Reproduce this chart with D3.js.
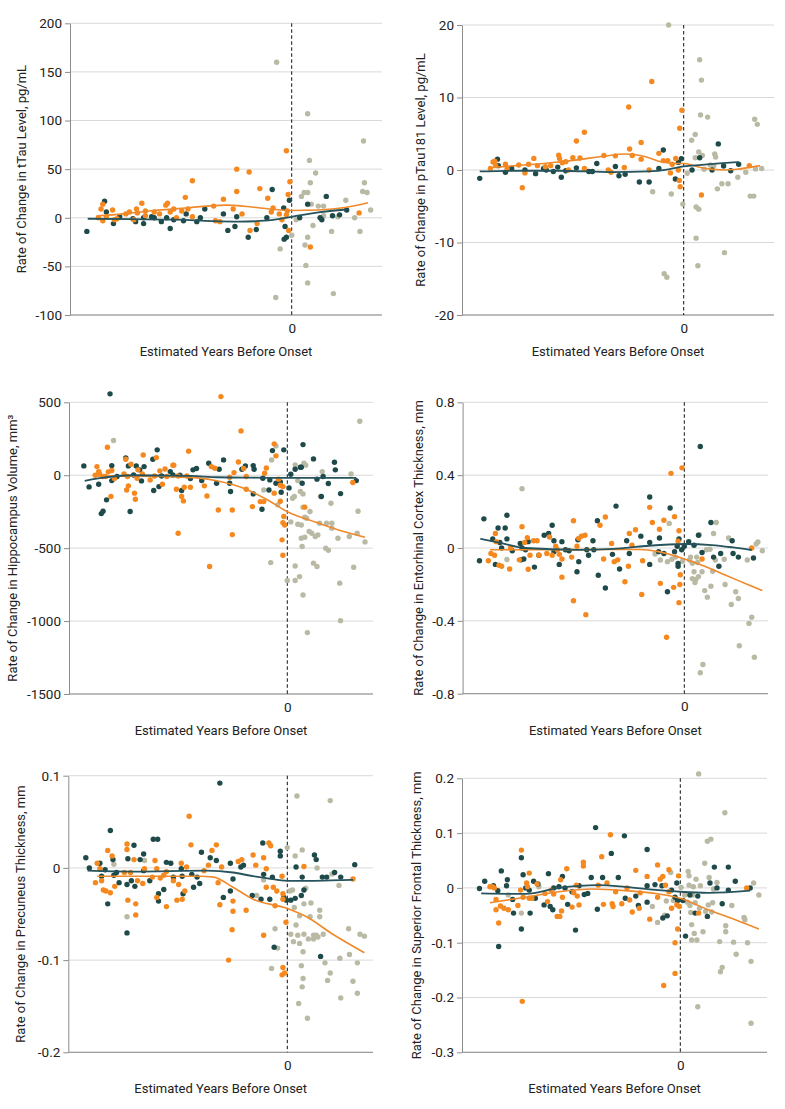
<!DOCTYPE html>
<html>
<head>
<meta charset="utf-8">
<script src="https://cdn.jsdelivr.net/npm/d3@7"></script>
<style>
  body { margin: 0; background: #fff; }
  svg { display: block; }
  text { font-family: Roboto, "Noto Sans", sans-serif; fill: #222; }
</style>
</head>
<body>
<div id="container"></div>
<script>
// tTau
const tauDark = [[-23.1,-14],[-21.1,17],[-20.9,6],[-20.1,-6],[-19.4,1],[-17.9,-1],[-17.6,-4],[-16.7,-6],[-16.7,0],[-15.8,1],[-15.5,0],[-14.7,-4],[-14.1,0],[-13.7,-11],[-13.3,-2],[-12.2,-3],[-11.9,4],[-10.7,-4],[-10.3,0],[-9.8,9],[-7.7,4],[-7.2,-13],[-6.4,-9],[-6.2,1],[-4.9,-20],[-4.0,-12],[-2.8,0],[-2.2,29],[-0.75,-9],[-0.85,-22],[-0.6,-20],[-0.26,18],[-0.9,10],[0.9,0],[1.8,14],[3.2,0],[3.4,-2],[3.9,22],[4.6,2],[5.4,3],[6.2,8]];
const tauOrange = [[-21.8,0],[-21.5,9],[-21.3,14],[-21.3,-3],[-20.9,1],[-20.2,8],[-20.0,-2],[-19.7,-1],[-18.7,4],[-18.3,6],[-17.8,-2],[-17.5,9],[-17.4,5],[-16.9,15],[-16.5,7],[-16.5,2],[-15.5,6],[-14.9,4],[-14.2,13],[-14.0,15],[-13.7,6],[-13.3,9],[-13.0,0],[-12.4,7],[-12.0,21],[-11.7,9],[-11.2,38],[-11.2,1],[-8.8,12],[-8.6,-3],[-8.1,-4],[-7.7,19],[-6.6,9],[-6.2,50],[-6.2,27],[-5.6,4],[-4.8,47],[-4.7,-13],[-3.9,-6],[-3.6,30],[-2.7,20],[-2.3,6],[-2.1,10],[-1.4,4],[-1.1,-2],[-0.6,69],[-0.4,24],[-0.2,37],[-0.34,-13],[-0.5,7],[-0.6,3],[2.1,-30],[7.6,5]];
const tauGray = [[-1.7,160],[-1.8,-82],[-1.3,-32],[0.0,-18],[0.5,-2],[1.1,22],[1.4,26],[1.8,26],[1.8,107],[2.0,59],[2.1,36],[2.2,14],[1.5,-28],[1.6,-49],[1.8,-67],[1.8,-20],[2.4,-8],[2.7,46],[3.0,12],[3.6,12],[3.6,2],[4.5,-14],[4.7,-78],[5.2,1],[6.1,18],[7.1,0],[7.7,-14],[8.1,79],[8.2,36],[8.0,27],[8.5,26],[8.9,8]];
const tauDarkFit = [[-23,-1],[-18,-1.5],[-13,-2],[-9,-3.5],[-6,-4],[-3,-3],[0,1],[3,5.5],[6.2,8.5]];
const tauOrangeFit = [[-22,2],[-19,4],[-16,7],[-12,10],[-7.5,13],[-4.5,11],[-2.5,9],[0,7.5],[3,8],[6,10.5],[8.6,15.5]];
const tauTicks = [-100,-50,0,50,100,150,200];

// pTau181
const ptauDark = [[-23.0,-1.15],[-21.0,1.5],[-20.9,0.6],[-20.1,-0.3],[-19.4,0.2],[-17.9,0],[-16.7,-0.5],[-15.8,0.2],[-15.5,0],[-14.7,-0.2],[-14.2,0.4],[-13.8,-1.0],[-13.3,-0.1],[-12.1,0.3],[-10.7,-0.2],[-10.3,-0.2],[-9.8,0.9],[-7.7,0.5],[-7.3,-0.8],[-6.6,-0.6],[-5.0,-1.65],[-3.9,-1.65],[-2.8,0.2],[-2.3,2.75],[-0.94,-1.25],[-0.6,1.05],[-0.26,1.55],[0.94,0],[1.8,1.7],[3.2,0],[3.9,3.6],[4.5,0.55],[5.3,-0.1],[6.2,0.8]];
const ptauOrange = [[-21.8,0.2],[-21.5,1.1],[-21.3,1.2],[-21.2,0.6],[-20.1,0.8],[-19.9,0.2],[-18.6,0.7],[-18.2,-2.45],[-17.9,-0.4],[-17.5,0.8],[-16.9,1.6],[-16.5,0.6],[-15.6,0.45],[-15.0,0.6],[-14.1,2.05],[-14.0,1.6],[-13.7,1.0],[-13.3,1.15],[-13.0,0],[-12.5,1.7],[-12.1,4.0],[-11.7,1.65],[-11.2,5.2],[-11.2,0.2],[-9.0,2.0],[-8.5,0],[-8.2,-0.3],[-7.7,1.95],[-6.7,0.35],[-6.2,8.7],[-6.1,2.9],[-5.8,2.0],[-4.8,3.8],[-4.8,1.5],[-3.9,0],[-3.6,12.2],[-2.8,2.3],[-2.3,1.3],[-1.8,1.3],[-1.5,-0.4],[-1.3,0.8],[-0.9,1.6],[-0.45,5.75],[-0.2,8.25],[-0.5,-1.45],[-0.4,-2.3],[-0.6,0],[2.0,-3.45],[7.4,0.6]];
const ptauGray = [[-1.7,20],[-2.2,-14.3],[-1.9,-14.8],[-3.5,-3.0],[-1.4,-3.3],[-0.1,-4.7],[0.4,-0.45],[0.9,4.1],[1.3,4.9],[1.7,2.5],[1.8,15.2],[2.0,12.4],[1.9,7.6],[2.7,7.3],[1.3,1.7],[2.1,2.0],[1.4,-5.1],[1.7,-5.4],[1.4,-9.4],[1.6,-13.2],[2.3,0.1],[3.0,0.7],[3.4,0.6],[3.5,2.2],[3.6,1.8],[3.8,-2.6],[4.3,-1.9],[4.6,-11.4],[5.0,-1.9],[6.1,-1.0],[7.0,-0.3],[7.5,-3.6],[7.9,-3.6],[8.0,7.0],[8.3,6.3],[8.1,0.15],[8.8,0.2]];
const ptauDarkFit = [[-23,-0.2],[-18,-0.1],[-14,-0.1],[-8,-0.3],[-4,-0.2],[-1.7,0.1],[0,0.5],[2,0.7],[4,0.9],[6.2,1.1]];
const ptauOrangeFit = [[-22,0.3],[-19,0.6],[-15,1.0],[-12,1.4],[-9,1.9],[-6.5,2.2],[-4.5,1.9],[-2.5,1.1],[-1,0.9],[0,0.9],[2,0.3],[4.5,0],[6,0.1],[8.6,0.6]];
const ptauTicks = [-20,-10,0,10,20];

// Hippocampus
const hipDark = [[-23.3,64],[-22.7,-80],[-21.6,-62],[-21.3,-263],[-21.1,-247],[-20.7,-169],[-20.3,558],[-20.1,66],[-20.1,-37],[-19.5,-9],[-18.5,119],[-18.2,64],[-18.0,-249],[-17.6,2],[-17.3,64],[-16.9,37],[-16.7,-39],[-16.4,59],[-15.4,110],[-15.3,-105],[-14.9,174],[-14.7,-78],[-14.4,-5],[-13.4,25],[-13.1,2],[-12.1,-105],[-12.3,0],[-11.1,-23],[-10.8,37],[-10.4,46],[-9.8,-37],[-9.0,82],[-8.1,-55],[-7.8,41],[-7.3,105],[-6.6,-55],[-6.5,-112],[-5.2,41],[-4.8,64],[-3.9,66],[-3.8,41],[-3.9,-128],[-2.9,-233],[-2.8,-21],[-2.1,-101],[-2.0,-32],[-1.7,169],[-1.3,-55],[-0.8,-46],[-0.7,-117],[-0.4,174],[0.2,-87],[0.4,7],[0.9,41],[1.5,55],[1.7,-55],[1.8,210],[1.6,55],[3.0,112],[3.4,-27],[3.9,-146],[4.1,-9],[4.7,-57],[5.4,89],[5.5,37],[6.1,-126],[7.9,-37]];
const hipOrange = [[-22.0,0],[-21.8,59],[-21.6,25],[-21.5,9],[-21.1,-9],[-20.8,-9],[-20.6,192],[-20.5,23],[-20.2,-146],[-20.1,32],[-19.8,-23],[-18.7,9],[-18.5,110],[-18.3,-9],[-18.4,-101],[-18.2,-73],[-17.9,75],[-17.5,-123],[-17.4,-165],[-17.2,-21],[-17.1,37],[-16.6,9],[-16.5,139],[-15.7,-32],[-15.2,-5],[-15.0,121],[-14.6,30],[-14.3,-62],[-14.0,43],[-13.8,-9],[-13.1,69],[-13.0,69],[-12.7,-96],[-12.5,-5],[-12.5,-398],[-12.1,-146],[-11.9,-176],[-11.8,-82],[-11.5,-5],[-11.3,165],[-11.1,-82],[-9.5,-73],[-9.2,-142],[-8.9,-626],[-8.7,59],[-8.3,48],[-7.9,-238],[-7.6,539],[-6.6,-14],[-6.3,-407],[-6.3,-238],[-6.1,18],[-5.6,91],[-5.3,304],[-5.0,46],[-4.7,-9],[-4.7,-96],[-4.0,-215],[-3.1,-181],[-2.7,-181],[-2.6,14],[-2.4,50],[-1.5,215],[-1.3,133],[-1.5,-123],[-1.0,-27],[-0.8,-69],[-0.8,-178],[-0.6,-443],[-0.5,-325],[-0.5,-549],[-0.4,-283],[-0.3,-341],[-0.5,-78],[2.0,-219],[7.5,-50]];
const hipGray = [[-19.9,238],[-1.9,-599],[-2.7,-101],[-1.8,105],[-1.3,201],[-1.1,-203],[0.0,-722],[0.4,-320],[0.6,-158],[0.8,-146],[0.9,71],[1.2,-37],[0.9,-622],[0.9,-722],[1.4,-695],[1.2,-336],[1.5,-112],[1.6,-341],[1.6,-432],[1.7,-489],[1.8,-128],[1.8,-821],[1.8,-219],[1.9,82],[2.0,-288],[2.0,-425],[2.1,69],[2.2,-295],[2.3,-1079],[2.5,-386],[2.6,-249],[2.8,-398],[3.0,-603],[3.2,-420],[3.4,-626],[3.5,-409],[3.7,-329],[3.8,-146],[4.0,25],[4.4,-500],[4.7,-514],[4.5,-329],[5.1,-329],[5.1,-363],[5.0,-192],[5.8,-432],[6.0,-740],[6.1,-997],[7.1,-420],[7.3,9],[7.6,-631],[8.0,-398],[8.1,-247],[8.3,370],[8.9,-457]];
const hipDarkFit = [[-23.2,-39],[-21.5,-20],[-17.6,0],[-13,-3],[-11,-5],[-8,-14],[-4,-17],[0,-18],[4,-18],[7.9,-18]];
const hipOrangeFit = [[-22,-5],[-17.6,-6],[-13.8,-9],[-10,-20],[-7.7,-43],[-5,-89],[-2.4,-165],[0,-250],[3.4,-325],[5.6,-370],[8.9,-425]];
const hipTicks = [-1500,-1000,-500,0,500];

// Entorhinal cortex
const entDark = [[-23.1,-0.07],[-22.6,0.16],[-21.6,0.05],[-21.3,-0.09],[-21.0,0.11],[-20.8,0.03],[-20.6,0.0],[-20.2,0.11],[-20.0,0.18],[-20.0,0.05],[-19.4,-0.015],[-18.5,0.025],[-18.3,0],[-18.4,-0.065],[-18.1,-0.06],[-17.9,-0.01],[-17.6,0.035],[-16.9,-0.105],[-16.4,-0.04],[-15.8,0.07],[-15.3,0.08],[-14.9,0.125],[-14.7,0.04],[-14.7,-0.02],[-14.1,-0.09],[-13.8,0.035],[-13.4,-0.01],[-13.0,-0.015],[-12.1,-0.13],[-12.0,0.045],[-11.9,-0.075],[-11.0,-0.01],[-10.8,-0.04],[-10.3,0.04],[-10.2,-0.01],[-9.7,-0.15],[-9.8,0.15],[-8.9,-0.22],[-8.1,-0.035],[-7.7,0.23],[-7.3,-0.115],[-6.5,0.04],[-6.2,-0.03],[-4.9,0.065],[-3.9,-0.09],[-3.9,0.28],[-3.9,0.03],[-2.9,-0.02],[-2.8,0.055],[-2.3,-0.03],[-1.9,-0.24],[-1.6,0.22],[-1.1,-0.02],[-0.8,0.01],[-0.7,-0.085],[-0.7,-0.1],[-0.6,0.05],[-0.3,-0.01],[0,0.01],[0.5,0.035],[1.1,0.015],[1.6,0.07],[1.8,0.557],[2.0,-0.025],[3.0,0.14],[3.3,-0.05],[3.9,-0.1],[4.1,-0.03],[5.4,0.04],[5.5,-0.03],[6.1,-0.05],[7.8,-0.055]];
const entOrange = [[-22.1,-0.07],[-21.8,-0.03],[-21.4,-0.04],[-21.3,0.08],[-21.2,0.035],[-20.9,-0.095],[-20.6,-0.1],[-19.7,-0.115],[-19.6,0],[-18.3,0.117],[-18.6,-0.065],[-18.0,0.03],[-17.7,0.057],[-17.6,-0.117],[-17.4,-0.04],[-17.0,0.04],[-16.6,0.04],[-16.4,-0.04],[-15.5,-0.03],[-15.2,0.06],[-14.9,-0.04],[-14.5,0.01],[-14.3,-0.01],[-14.1,-0.035],[-13.8,-0.06],[-13.8,-0.16],[-12.7,-0.05],[-12.5,0.15],[-12.5,-0.29],[-12.1,0.01],[-11.9,0.053],[-11.6,0.065],[-11.2,0.07],[-11.1,-0.366],[-9.5,0.125],[-8.9,0.17],[-9.1,-0.06],[-8.2,0.025],[-7.9,-0.075],[-7.5,-0.065],[-6.7,-0.185],[-6.3,-0.1],[-6.2,0.08],[-5.9,0.015],[-5.5,0.1],[-4.8,-0.255],[-4.7,-0.07],[-3.9,0.223],[-3.6,0.14],[-2.8,0.103],[-2.7,-0.194],[-2.3,0.152],[-2.0,-0.49],[-1.5,0.41],[-1.2,-0.216],[-1.1,0.172],[-0.7,0.038],[-0.6,0.095],[-0.6,-0.3],[-0.45,-0.147],[-0.5,-0.2],[-0.26,0.44],[2.0,-0.06],[7.6,0]];
const entGray = [[-18.3,0.326],[-20.0,-0.063],[-3.3,-0.033],[-2.7,-0.066],[-1.9,-0.075],[-1.7,0.135],[-1.4,-0.062],[-1.0,-0.05],[-0.2,-0.073],[0.6,-0.066],[0.7,-0.05],[0.9,-0.084],[0.9,-0.168],[1.1,-0.13],[1.2,-0.19],[1.3,-0.172],[1.4,-0.05],[1.5,-0.08],[1.6,-0.157],[1.7,0.073],[1.8,-0.685],[2.0,-0.13],[2.1,-0.64],[2.3,-0.234],[2.5,-0.01],[2.6,-0.27],[2.9,-0.007],[3.0,-0.21],[3.2,-0.128],[3.3,0.08],[3.6,0.14],[3.5,-0.066],[4.5,-0.062],[4.6,-0.2],[5.0,0.055],[5.3,-0.31],[5.8,-0.24],[6.1,-0.277],[6.2,-0.537],[7.1,-0.066],[7.3,-0.414],[7.6,-0.38],[7.9,-0.6],[8.1,0.022],[8.3,0.033],[8.8,-0.015]];
const entDarkFit = [[-23,0.051],[-20.5,0.025],[-18,0],[-12,-0.01],[-8,-0.005],[-4.4,0.011],[0,0.022],[3.1,0.016],[5.5,0.003],[7.6,-0.011]];
const entOrangeFit = [[-21.9,-0.01],[-15,-0.01],[-10,-0.008],[-5,-0.008],[-2.9,-0.02],[0,-0.06],[2.3,-0.1],[4.6,-0.148],[6.8,-0.193],[8.8,-0.234]];
const entTicks = [-0.8,-0.4,0,0.4,0.8];

// Precuneus
const precDark = [[-23.0,0.011],[-22.6,0],[-21.4,0.005],[-21.2,-0.009],[-20.8,-0.002],[-20.5,-0.039],[-20.2,0.0405],[-19.8,-0.008],[-19.9,0.009],[-19.5,-0.005],[-19.2,-0.016],[-18.3,-0.0705],[-18.3,-0.018],[-18.2,0.01],[-17.8,-0.014],[-17.5,0.0245],[-17.4,-0.02],[-16.8,0.009],[-16.4,0.015],[-16.4,-0.003],[-15.7,-0.014],[-15.3,0.031],[-14.8,0.031],[-14.7,-0.028],[-14.7,-0.036],[-14.1,-0.0235],[-13.8,0.006],[-13.3,0.005],[-13.0,-0.01],[-12.1,-0.001],[-12.0,-0.009],[-11.9,-0.028],[-10.9,-0.007],[-10.7,-0.021],[-10.3,-0.01],[-10.0,-0.017],[-9.8,0.017],[-8.8,0.011],[-8.1,0.008],[-7.7,0.092],[-7.3,-0.032],[-6.5,-0.025],[-6.5,0.005],[-6.2,-0.012],[-5.3,0.001],[-5.0,0.003],[-4.0,-0.03],[-3.0,-0.034],[-2.8,0.027],[-2.7,-0.007],[-1.7,-0.01],[-2.0,-0.034],[-1.5,-0.086],[-0.8,0.018],[-0.8,0.013],[-0.4,-0.032],[-0.1,-0.035],[0.4,-0.035],[0.9,-0.033],[1.0,0.001],[1.6,-0.03],[1.7,-0.01],[1.9,-0.024],[3.1,0.014],[3.3,0.009],[3.8,-0.096],[4.0,-0.01],[4.5,-0.01],[5.4,-0.005],[6.1,-0.01],[7.7,0.0035]];
const precOrange = [[-21.9,-0.016],[-21.7,0.005],[-21.4,-0.001],[-21.2,-0.014],[-21.0,-0.024],[-20.7,-0.025],[-20.5,0.019],[-20.2,-0.027],[-20.0,0.013],[-19.7,-0.02],[-18.6,-0.005],[-18.3,0.026],[-18.3,0.02],[-18.2,-0.035],[-17.9,-0.005],[-17.5,0.009],[-17.3,-0.039],[-17.3,-0.051],[-17.1,-0.014],[-16.5,-0.017],[-16.3,-0.001],[-15.4,-0.01],[-15.1,0.008],[-14.9,-0.001],[-14.9,-0.032],[-14.5,-0.011],[-14.1,-0.008],[-13.8,-0.042],[-13.8,-0.004],[-13.0,-0.014],[-12.6,-0.035],[-12.4,-0.018],[-12.1,0.005],[-12.0,-0.034],[-11.7,-0.025],[-11.5,0.001],[-11.2,0.056],[-11.0,0.025],[-9.5,-0.003],[-9.0,0.003],[-8.6,0.019],[-8.1,0.025],[-7.9,-0.016],[-7.7,-0.04],[-7.5,0.001],[-6.7,-0.1],[-6.3,-0.067],[-6.2,-0.036],[-6.2,-0.047],[-5.6,0.007],[-5.2,0.009],[-4.7,-0.046],[-3.9,0.014],[-3.6,0.003],[-2.7,-0.073],[-2.7,0.011],[-2.4,-0.021],[-2.4,-0.001],[-2.1,0.027],[-1.9,0.024],[-1.6,-0.021],[-1.4,-0.041],[-1.2,-0.025],[-0.6,-0.009],[-0.5,-0.028],[-0.5,-0.108],[-0.6,-0.116],[-0.3,-0.114],[-0.15,-0.059],[-0.5,-0.034],[1.9,0.0015],[7.5,-0.012]];
const precGray = [[-19.8,0.004],[-18.3,-0.053],[-16.3,0.008],[-3.5,-0.03],[-2.7,-0.013],[-1.8,-0.109],[-1.4,-0.066],[-1.1,-0.087],[0.0,0.022],[0.3,-0.025],[0.4,-0.072],[0.6,-0.024],[0.8,-0.043],[0.7,-0.08],[0.9,0.013],[1.0,-0.062],[1.1,0.078],[1.2,-0.073],[1.3,-0.147],[1.4,-0.082],[1.4,-0.052],[1.6,-0.106],[1.7,0.0195],[1.7,-0.129],[1.8,-0.12],[1.8,-0.091],[1.9,-0.072],[1.9,-0.039],[2.1,-0.022],[2.3,-0.163],[2.4,-0.077],[2.6,-0.053],[2.7,-0.038],[3.0,-0.077],[3.0,-0.073],[3.3,-0.073],[3.4,0.0],[3.5,-0.075],[3.7,-0.053],[3.7,-0.046],[4.1,-0.072],[4.3,-0.103],[4.6,-0.122],[4.9,0.073],[4.9,-0.114],[5.1,-0.0065],[5.9,-0.019],[6.0,-0.098],[6.1,-0.141],[7.0,-0.066],[7.1,-0.094],[7.5,-0.123],[8.0,-0.103],[8.0,-0.136],[8.3,-0.072],[8.8,-0.074]];
const precDarkFit = [[-22.8,-0.003],[-17.6,-0.004],[-9.2,-0.003],[-6.2,-0.005],[-3.9,-0.009],[-2.4,-0.011],[0,-0.014],[2.2,-0.014],[5,-0.0135],[7.5,-0.013]];
const precOrangeFit = [[-21.7,-0.009],[-17.6,-0.009],[-10,-0.009],[-8.4,-0.01],[-6.2,-0.021],[-3.9,-0.034],[0,-0.044],[2.2,-0.053],[5.2,-0.072],[8.8,-0.092]];
const precTicks = [-0.2,-0.1,0,0.1];

// Superior frontal
const sfDark = [[-23.0,-0.001],[-22.4,0.012],[-21.4,0.004],[-20.9,-0.005],[-20.8,-0.107],[-20.5,0.031],[-19.9,0.004],[-19.8,0.015],[-19.2,-0.021],[-19.1,-0.046],[-18.2,0.055],[-18.2,-0.075],[-18.0,0.024],[-17.7,0],[-17.3,-0.004],[-17.2,-0.046],[-16.8,0.012],[-16.6,-0.019],[-16.3,0.007],[-15.6,-0.031],[-15.1,0.026],[-14.9,-0.034],[-14.6,-0.04],[-14.5,0],[-13.9,0.002],[-13.5,0.021],[-13.2,0],[-12.9,-0.03],[-12.4,-0.007],[-12.0,-0.077],[-11.6,0.004],[-11.0,-0.012],[-10.6,-0.01],[-10.2,0.019],[-9.7,0.11],[-9.5,-0.039],[-8.9,0.019],[-7.9,0.063],[-7.1,0.019],[-6.4,0.095],[-6.3,-0.019],[-5.1,-0.015],[-4.8,-0.032],[-3.8,0.07],[-3.8,0.004],[-3.8,-0.026],[-2.9,0.006],[-2.1,0.004],[-2.0,-0.055],[-1.5,-0.051],[-1.0,-0.004],[-0.6,-0.017],[-0.4,0.009],[-0.3,-0.023],[0.3,-0.023],[0.6,-0.088],[1.1,-0.013],[1.7,-0.046],[2.0,-0.015],[3.1,-0.052],[3.4,0.009],[3.9,0.038],[4.2,0],[4.8,-0.029],[5.5,0.038],[5.5,-0.004],[6.3,0.012],[8.0,0]];
const sfOrange = [[-21.8,0.002],[-21.5,0.002],[-21.3,0],[-21.1,-0.021],[-21.1,-0.04],[-20.8,-0.064],[-20.6,-0.033],[-20.2,-0.037],[-19.7,-0.04],[-18.6,-0.032],[-18.3,-0.004],[-18.2,0.069],[-18.1,-0.207],[-18.0,-0.017],[-17.6,0.009],[-17.5,0.002],[-17.3,0.027],[-17.3,-0.019],[-17.0,-0.019],[-16.4,0.007],[-15.5,-0.01],[-15.2,-0.025],[-14.8,-0.004],[-14.5,-0.011],[-14.1,-0.052],[-13.8,-0.052],[-13.7,0.015],[-13.6,-0.042],[-13.5,-0.017],[-13.0,0.035],[-12.4,-0.035],[-12.2,-0.009],[-11.9,0.005],[-11.8,-0.015],[-11.6,-0.031],[-11.1,0.04],[-11.1,0.047],[-9.4,0.005],[-9.0,0.057],[-8.8,-0.03],[-8.4,0.009],[-8.0,0.097],[-7.8,-0.029],[-7.7,-0.034],[-7.4,-0.007],[-6.7,-0.029],[-6.1,0],[-5.8,-0.022],[-5.5,-0.044],[-5.1,0.032],[-4.7,-0.037],[-4.6,-0.009],[-3.8,0.021],[-3.5,-0.057],[-2.6,0.042],[-2.6,-0.017],[-2.3,0.016],[-2.0,0.021],[-1.9,-0.178],[-1.7,0.005],[-1.3,0.033],[-1.3,-0.007],[-1.0,-0.037],[-0.6,-0.1],[-0.6,-0.156],[-0.4,-0.031],[-0.3,-0.075],[-0.2,0.022],[-0.1,-0.034],[2.1,-0.046],[7.6,0]];
const sfGray = [[-19.7,-0.013],[-18.2,-0.046],[-16.2,0.002],[-3.2,-0.034],[-2.6,-0.063],[-1.8,-0.05],[-1.6,-0.024],[-1.1,0.028],[-0.8,-0.023],[0.1,0.001],[0.5,-0.013],[0.8,-0.026],[0.9,0.03],[1.0,0.022],[1.0,0.005],[1.1,-0.032],[1.2,-0.045],[1.3,-0.067],[1.3,-0.095],[1.4,-0.013],[1.5,0.002],[1.6,-0.083],[1.7,-0.027],[1.8,0.016],[1.9,-0.095],[2.0,-0.217],[2.1,0.208],[2.2,-0.037],[2.3,0.004],[2.6,-0.08],[2.8,0.045],[2.9,-0.043],[3.1,0.085],[3.2,-0.031],[3.3,0.019],[3.5,0.089],[3.6,-0.044],[3.7,-0.027],[3.8,-0.002],[4.2,0.01],[4.5,-0.098],[4.6,-0.153],[4.8,-0.145],[5.1,0.137],[5.2,-0.08],[5.2,-0.069],[5.9,-0.032],[6.1,-0.099],[6.4,-0.121],[7.3,-0.054],[7.4,-0.058],[7.7,-0.1],[8.1,-0.134],[8.1,-0.247],[8.4,0.009],[9.0,-0.013]];
const sfDarkFit = [[-22.8,-0.01],[-17.7,-0.011],[-13.9,0],[-9.4,0.005],[-6.3,0.002],[-2.5,-0.004],[0,-0.007],[3.2,-0.009],[8.0,-0.005]];
const sfOrangeFit = [[-21.8,-0.027],[-17.7,-0.017],[-13.9,-0.007],[-10.1,-0.002],[-6.3,-0.005],[-2.5,-0.011],[0,-0.019],[3.2,-0.04],[6.3,-0.058],[9.0,-0.075]];
const sfTicks = [-0.3,-0.2,-0.1,0,0.1,0.2];

const xTitle = "Estimated Years Before Onset";

const panels = [
  {dark: tauDark, orange: tauOrange, gray: tauGray, darkFit: tauDarkFit, orangeFit: tauOrangeFit, ticks: tauTicks,
   title: "Rate of Change in tTau Level, pg/mL", left: 70, zero: 291.7, right: 382, top: 23.3, bottom: 315, titleX: 21},
  {dark: ptauDark, orange: ptauOrange, gray: ptauGray, darkFit: ptauDarkFit, orangeFit: ptauOrangeFit, ticks: ptauTicks,
   title: "Rate of Change in pTau181 Level, pg/mL", left: 462, zero: 683.7, right: 774, top: 25, bottom: 315, titleX: 420},
  {dark: hipDark, orange: hipOrange, gray: hipGray, darkFit: hipDarkFit, orangeFit: hipOrangeFit, ticks: hipTicks,
   title: "Rate of Change in Hippocampus Volume, mm³", left: 69, zero: 287.3, right: 373, top: 402.3, bottom: 694, titleX: 12},
  {dark: entDark, orange: entOrange, gray: entGray, darkFit: entDarkFit, orangeFit: entOrangeFit, ticks: entTicks,
   title: "Rate of Change in Entorhinal Cortex Thickness, mm", left: 462.6, zero: 684.3, right: 768, top: 402.3, bottom: 693.7, titleX: 418},
  {dark: precDark, orange: precOrange, gray: precGray, darkFit: precDarkFit, orangeFit: precOrangeFit, ticks: precTicks,
   title: "Rate of Change in Precuneus Thickness, mm", left: 68.3, zero: 287.3, right: 373, top: 775.7, bottom: 1052.3, titleX: 20},
  {dark: sfDark, orange: sfOrange, gray: sfGray, darkFit: sfDarkFit, orangeFit: sfOrangeFit, ticks: sfTicks,
   title: "Rate of Change in Superior Frontal Thickness, mm", left: 462, zero: 680.3, right: 767, top: 778.3, bottom: 1052.3, titleX: 416}
];

const width = 785;
const height = 1109;
const r = 2.7;

const svg = d3.select("#container")
  .append("svg")
  .attr("width", width)
  .attr("height", height);

panels.forEach(p => {
  const x = d3.scaleLinear().domain([-25, 0]).range([p.left, p.zero]);
  const y = d3.scaleLinear().domain(d3.extent(p.ticks)).range([p.bottom, p.top]);
  const g = svg.append("g");

  // gridlines
  g.selectAll(".grid")
    .data(p.ticks)
    .enter()
    .append("line")
    .attr("x1", p.left).attr("x2", p.right)
    .attr("y1", d => y(d)).attr("y2", d => y(d))
    .attr("stroke", "#d9d9d9")
    .attr("stroke-width", 1);

  // y axis
  const yAxis = d3.axisLeft(y).tickValues(p.ticks).tickSize(5).tickSizeOuter(0).tickPadding(3).tickFormat(d => String(d));
  const ya = g.append("g").attr("transform", `translate(${p.left},0)`).call(yAxis);
  ya.select(".domain").attr("stroke", "#8c8c8c");
  ya.selectAll(".tick line").attr("stroke", "#8c8c8c");
  ya.selectAll("text").style("font-size", "13.5px").attr("fill", "#222");

  // x axis: only the 0 tick
  g.append("line")
    .attr("x1", p.left).attr("x2", p.right)
    .attr("y1", p.bottom).attr("y2", p.bottom)
    .attr("stroke", "#8c8c8c");
  const xa = g.append("g").attr("transform", `translate(0,${p.bottom})`)
    .call(d3.axisBottom(x).tickValues([0]).tickSize(0).tickPadding(8));
  xa.select(".domain").remove();
  xa.selectAll("text").style("font-size", "13.5px").attr("fill", "#222");

  // onset line
  g.append("line")
    .attr("x1", x(0)).attr("x2", x(0))
    .attr("y1", p.top).attr("y2", p.bottom)
    .attr("stroke", "#111")
    .attr("stroke-width", 1)
    .attr("stroke-dasharray", "3.5,2.5");

  const groups = [[p.gray, "#b9b9a4"], [p.dark, "#1e4a49"], [p.orange, "#f5881e"]];
  groups.forEach(([pts, col]) => {
    g.selectAll(null)
      .data(pts)
      .enter()
      .append("circle")
      .attr("cx", d => x(d[0]))
      .attr("cy", d => y(d[1]))
      .attr("r", r)
      .attr("fill", col);
  });

  const line = d3.line().x(d => x(d[0])).y(d => y(d[1])).curve(d3.curveMonotoneX);
  g.append("path").attr("d", line(p.orangeFit)).attr("fill", "none").attr("stroke", "#f0892a").attr("stroke-width", 1.6);
  g.append("path").attr("d", line(p.darkFit)).attr("fill", "none").attr("stroke", "#26535c").attr("stroke-width", 1.8);

  // titles
  g.append("text")
    .attr("x", (p.left + p.right) / 2)
    .attr("y", p.bottom + 41)
    .attr("text-anchor", "middle")
    .style("font-size", "13px")
    .text(xTitle);
  g.append("text")
    .attr("transform", `translate(${p.titleX},${(p.top + p.bottom) / 2}) rotate(-90)`)
    .attr("text-anchor", "middle")
    .attr("dy", "0.35em")
    .style("font-size", "13px")
    .text(p.title);
});
</script>
</body>
</html>
